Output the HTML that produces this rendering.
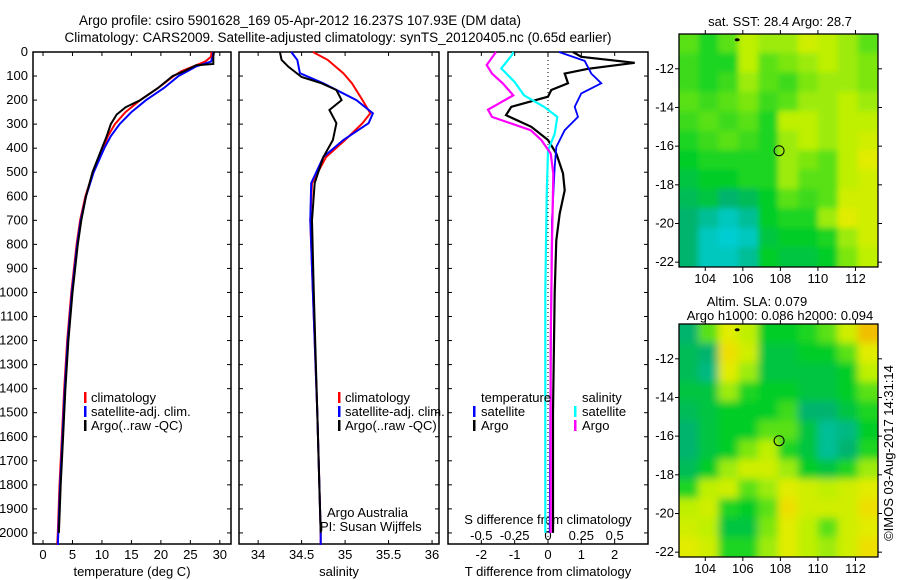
<!DOCTYPE html>
<html><head><meta charset="utf-8"><style>
body{margin:0;background:#fff;}
svg{display:block;font-family:"Liberation Sans",sans-serif;}
</style></head><body>
<svg id="c" width="900" height="580" viewBox="0 0 900 580" xmlns="http://www.w3.org/2000/svg">
<text x="300" y="25" font-size="13.5" text-anchor="middle">Argo profile: csiro 5901628_169 05-Apr-2012 16.237S 107.93E (DM data)</text>
<text x="338" y="42" font-size="13.5" text-anchor="middle">Climatology: CARS2009. Satellite-adjusted climatology: synTS_20120405.nc (0.65d earlier)</text>
<g id="g"></g>
</svg>
<script>
// ---------- data ----------
const depthT = [0,20,40,60,80,100,150,200,250,300,350,400,500,600,700,800,1000,1200,1400,1600,1800,2000,2050];
const tempClim = [28.6,28.5,27.5,25.5,23.5,22.2,19.5,16.5,14,12.2,11,10.2,8.5,7.2,6.3,5.7,4.8,4.1,3.6,3.2,2.8,2.5,2.4];
const tempSat  = [28.9,28.8,28.5,26,24.5,23,20.5,17.5,15,13,11.5,10.4,8.6,7.3,6.4,5.8,4.9,4.2,3.7,3.3,2.9,2.6,2.5];
const depthTA = [0,20,40,50,55,80,100,150,200,230,260,300,350,400,500,600,700,800,1000,1200,1400,1600,1800,2000];
const tempArgo = [29,28.9,28.9,28.9,26,24,22,19.5,16.5,14,12.5,11.5,10.8,10,8.4,7.3,6.5,5.9,5,4.3,3.8,3.4,3,2.7];

const depthS = [0,33,88,130,200,255,296,366,437,545,700,1000,1500,2000,2050];
const salClim = [34.63,34.8,34.98,35.08,35.2,35.29,35.2,35.0,34.78,34.62,34.6,34.63,34.68,34.72,34.72];
const salSat  = [34.38,34.45,34.48,34.75,35.13,35.32,35.27,34.98,34.75,34.61,34.6,34.63,34.68,34.72,34.72];
const depthSA = [0,33,62,104,130,158,200,241,296,366,437,545,700,1000,1500,2000];
const salArgo = [34.25,34.27,34.35,34.5,34.73,34.9,34.96,34.82,34.9,34.86,34.75,34.65,34.62,34.64,34.68,34.72];

const depthDT = [0,20,45,70,90,130,158,186,228,263,311,366,422,505,575,672,783,1000,1500,2000];
const dTArgo = [0.75,1.0,2.6,1.2,0.5,0.6,0.1,0,-1.1,-1.26,-0.5,0,0.25,0.45,0.5,0.35,0.25,0.2,0.15,0.15];
const depthDTS = [0,37,90,130,172,228,270,325,395,478,700,1000,1500,2000];
const dTSat = [0.33,1.1,1.3,1.6,1.0,0.8,0.9,0.5,0.25,0.2,0.12,0.1,0.07,0.05];
const depthDSS = [0,12,68,125,180,228,270,340,410,600,1000,1500,2000];
const dSSat = [-0.26,-0.27,-0.35,-0.25,-0.18,-0.03,0.07,0.05,0,-0.01,-0.02,-0.02,-0.02];
const depthDSA = [0,54,90,130,180,240,270,325,366,422,505,800,1200,2000];
const dSArgo = [-0.39,-0.46,-0.42,-0.34,-0.26,-0.45,-0.42,-0.13,-0.05,0.02,0.04,0.03,0.02,0.02];

const depthTicks = [0,100,200,300,400,500,600,700,800,900,1000,1100,1200,1300,1400,1500,1600,1700,1800,1900,2000];
const tempTicks = [0,5,10,15,20,25,30];
const salTicks = [34,34.5,35,35.5,36];
const dTTicks = [-2,-1,0,1,2];
const dSTicks = [-0.5,-0.25,0,0.25,0.5];
const dSTickLabels = ['-0.5','-0.25','0','0.25','0.5'];
const latTicks = [-12,-14,-16,-18,-20,-22];
const lonTicks = [104,106,108,110,112];

const sstGrid = [
[.6,.5,.6,.75,.7,.7,.8,.75,.7,.6],
[.55,.5,.5,.75,.6,.65,.7,.75,.7,.65],
[.55,.5,.55,.7,.6,.55,.65,.7,.7,.65],
[.6,.55,.6,.65,.55,.6,.7,.7,.75,.7],
[.55,.6,.55,.6,.5,.75,.75,.7,.75,.75],
[.5,.55,.6,.55,.5,.7,.75,.7,.75,.8],
[.45,.5,.5,.5,.5,.7,.65,.6,.75,.85],
[.4,.45,.45,.5,.5,.7,.6,.6,.75,.8],
[.35,.4,.3,.35,.45,.6,.55,.6,.8,.8],
[.3,.2,.1,.2,.45,.5,.5,.7,.85,.8],
[.3,.1,.05,.1,.4,.45,.45,.5,.7,.8],
[.3,.1,.1,.2,.45,.4,.4,.45,.65,.75]];
const slaGrid = [
[.3,.6,.85,.75,.45,.45,.5,.6,.8,.95],
[.35,.3,.9,.8,.4,.4,.45,.45,.6,.85],
[.35,.25,.85,.7,.4,.4,.4,.4,.45,.75],
[.4,.4,.7,.5,.45,.45,.4,.4,.45,.6],
[.35,.4,.45,.45,.45,.55,.3,.3,.4,.5],
[.3,.4,.45,.45,.6,.6,.4,.2,.25,.45],
[.3,.4,.45,.65,.75,.5,.4,.2,.3,.5],
[.35,.45,.7,.8,.8,.7,.45,.4,.5,.7],
[.5,.75,.8,.6,.7,.85,.8,.75,.8,.85],
[.75,.8,.5,.45,.6,.9,.8,.8,.8,.9],
[.8,.75,.4,.4,.65,.85,.75,.6,.8,.85],
[.85,.8,.5,.5,.7,.85,.75,.7,.8,.9]];

// ---------- helpers ----------
const NS='http://www.w3.org/2000/svg';
const G=document.getElementById('g');
function mk(tag,attrs,parent){const e=document.createElementNS(NS,tag);for(const k in attrs)e.setAttribute(k,attrs[k]);(parent||G).appendChild(e);return e;}
const yTop=52,yBot=544,dMax=2046;
function yD(d){return yTop+(d/dMax)*(yBot-yTop);}

function panel(name,x0,x1,v0,v1){
  const box=mk('rect',{x:x0,y:yTop,width:x1-x0,height:yBot-yTop,fill:'none',stroke:'#000','stroke-width':1.5});
  
  
  return v=>x0+(v-v0)/(v1-v0)*(x1-x0);
}
function line(name,xs,ds,fx,color,w){
  const pts=xs.map((v,i)=>fx(v).toFixed(1)+','+yD(ds[i]).toFixed(1)).join(' ');
  const p=mk('polyline',{points:pts,fill:'none',stroke:color,'stroke-width':w||2,'stroke-linejoin':'miter'});
  
  
}
function txt(name,x,y,s,opts){
  const t=mk('text',Object.assign({x:x,y:y,'font-size':13},opts||{}));
  t.textContent=s;
  
  
  return t;
}
function xTicks(fx,ticks,labels,ylab,name){
  ticks.forEach((v,i)=>{const x=fx(v);
    mk('line',{x1:x,x2:x,y1:yBot,y2:yBot-4,stroke:'#000'});
    mk('line',{x1:x,x2:x,y1:yTop,y2:yTop+4,stroke:'#000'});
    txt(name+'-tick-label',x,ylab,labels?labels[i]:String(v),{'text-anchor':'middle'});
  });
}
function legendBar(x,y,color){mk('rect',{x:x,y:y-10,width:2.5,height:11,fill:color});}

// ---------- panel 1 ----------
const fT=panel('temperature-panel',33,231,-1.7,31.9);
depthTicks.forEach(d=>{const y=yD(d);
  mk('line',{x1:33,x2:37,y1:y,y2:y,stroke:'#000'});mk('line',{x1:231,x2:227,y1:y,y2:y,stroke:'#000'});
  txt('depth-tick-label',28,y+4,String(d),{'text-anchor':'end'});
});
xTicks(fT,tempTicks,null,559,'temperature');
txt('temperature-axis-title',132,576,'temperature (deg C)',{'text-anchor':'middle'});
line('temp-climatology-line',tempClim,depthT,fT,'#f00',2);
line('temp-satellite-line',tempSat,depthT,fT,'#00f',2);
line('temp-argo-line',tempArgo,depthTA,fT,'#000',2);
[['climatology','#f00'],['satellite-adj. clim.','#00f'],['Argo(..raw -QC)','#000']].forEach((l,i)=>{
  legendBar(84,402+i*14,l[1]);txt('temp-legend-entry',91,402+i*14,l[0]);
});

// ---------- panel 2 ----------
const fS=panel('salinity-panel',239,439,33.78,36.08);
depthTicks.forEach(d=>{const y=yD(d);
  mk('line',{x1:239,x2:243,y1:y,y2:y,stroke:'#000'});mk('line',{x1:439,x2:435,y1:y,y2:y,stroke:'#000'});});
xTicks(fS,salTicks,null,559,'salinity');
txt('salinity-axis-title',339,576,'salinity',{'text-anchor':'middle'});
line('sal-climatology-line',salClim,depthS,fS,'#f00',2);
line('sal-satellite-line',salSat,depthS,fS,'#00f',2);
line('sal-argo-line',salArgo,depthSA,fS,'#000',2);
[['climatology','#f00'],['satellite-adj. clim.','#00f'],['Argo(..raw -QC)','#000']].forEach((l,i)=>{
  legendBar(338,402+i*14,l[1]);txt('sal-legend-entry',345,402+i*14,l[0]);
});
txt('argo-australia-label',327,517,'Argo Australia');
txt('pi-label',320,531,'PI: Susan Wijffels');

// ---------- panel 3 ----------
const fDT=panel('difference-panel',448,648,-3,3);
const fDS=v=>fDT(v*4);
depthTicks.forEach(d=>{const y=yD(d);
  mk('line',{x1:448,x2:452,y1:y,y2:y,stroke:'#000'});mk('line',{x1:648,x2:644,y1:y,y2:y,stroke:'#000'});});
mk('line',{x1:fDT(0),x2:fDT(0),y1:yTop,y2:yBot,stroke:'#000','stroke-dasharray':'1,3'});
xTicks(fDT,dTTicks,null,559,'t-diff');
dSTicks.forEach((v,i)=>txt('s-diff-tick-label',fDS(v),540,dSTickLabels[i],{'text-anchor':'middle'}));
txt('s-diff-axis-title',548,524,'S difference from climatology',{'text-anchor':'middle'});
txt('t-diff-axis-title',548,576,'T difference from climatology',{'text-anchor':'middle'});
line('dt-argo-line',dTArgo,depthDT,fDT,'#000',2.2);
line('dt-satellite-line',dTSat,depthDTS,fDT,'#00f',1.8);
line('ds-satellite-line',dSSat,depthDSS,fDS,'#0ff',2.2);
line('ds-argo-line',dSArgo,depthDSA,fDS,'#f0f',2.2);
txt('legend-temperature-header',481,402,'temperature');
txt('legend-salinity-header',582,402,'salinity');
legendBar(473,416,'#00f');txt('legend-t-satellite',481,416,'satellite');
legendBar(473,430,'#000');txt('legend-t-argo',481,430,'Argo');
legendBar(574,416,'#0ff');txt('legend-s-satellite',582,416,'satellite');
legendBar(574,430,'#f0f');txt('legend-s-argo',582,430,'Argo');

// ---------- maps ----------
function cmap(v){
  const stops=[[0,[0,210,230]],[0.3,[0,180,110]],[0.45,[0,205,40]],[0.6,[90,225,20]],[0.75,[190,240,0]],[0.88,[235,235,0]],[1,[245,160,0]]];
  for(let i=1;i<stops.length;i++){if(v<=stops[i][0]){const a=stops[i-1],b=stops[i],t=(v-a[0])/(b[0]-a[0]);
    return 'rgb('+a[1].map((c,k)=>Math.round(c+(b[1][k]-c)*t)).join(',')+')';}}
  return 'rgb(245,160,0)';
}
const defs=mk('defs',{});
const f1=mk('filter',{id:'blur1',x:'-5%',y:'-5%',width:'110%',height:'110%'},defs);
mk('feGaussianBlur',{stdDeviation:3},f1);
const f2=mk('filter',{id:'blur2',x:'-5%',y:'-5%',width:'110%',height:'110%'},defs);
mk('feGaussianBlur',{stdDeviation:4},f2);
function map(name,grid,y0,y1,filt){
  const x0=679,x1=878,lon0=102.6,lon1=113.2,lat0=-10.2,lat1=-22.25;
  const fx=v=>x0+(v-lon0)/(lon1-lon0)*(x1-x0), fy=v=>y0+(v-lat0)/(lat1-lat0)*(y1-y0);
  const nr=grid.length,nc=grid[0].length,cw=(x1-x0)/nc,ch=(y1-y0)/nr;
  const clip=mk('clipPath',{id:name+'clip'},defs);mk('rect',{x:x0,y:y0,width:x1-x0,height:y1-y0},clip);
  const g=mk('g',{'clip-path':'url(#'+name+'clip)'});
  const gi=mk('g',{filter:'url(#'+filt+')'},g);
  grid.forEach((row,r)=>row.forEach((v,c)=>{
    const cell=mk('rect',{x:x0+c*cw-0.5-(c==0?10:0),y:y0+r*ch-0.5-(r==0?10:0),width:cw+1+(c==0||c==nc-1?10:0),height:ch+1+(r==0||r==nr-1?10:0),fill:cmap(v)},gi);
    
    
  }));
  const fr=mk('rect',{x:x0,y:y0,width:x1-x0,height:y1-y0,fill:'none',stroke:'#000','stroke-width':1.3});
  
  
  latTicks.forEach(v=>{const y=fy(v);mk('line',{x1:x0,x2:x0-4,y1:y,y2:y,stroke:'#000'});mk('line',{x1:x1,x2:x1+4,y1:y,y2:y,stroke:'#000'});
    txt(name+'-lat-label',674,y+4,String(v),{'text-anchor':'end'});});
  lonTicks.forEach(v=>{const x=fx(v);mk('line',{x1:x,x2:x,y1:y1,y2:y1+4,stroke:'#000'});mk('line',{x1:x,x2:x,y1:y0,y2:y0-4,stroke:'#000'});
    txt(name+'-lon-label',x,y1+16,String(v),{'text-anchor':'middle'});});
  const c=mk('circle',{cx:fx(107.93),cy:fy(-16.237),r:5,fill:'none',stroke:'#000','stroke-width':1});
  
  
  mk('ellipse',{cx:fx(105.7),cy:fy(-10.5),rx:2.5,ry:1.5,fill:'#000'});
}
map('sst-map',sstGrid,34,267,'blur1');
map('sla-map',slaGrid,324,557,'blur2');
txt('sst-map-title',780,26,'sat. SST: 28.4 Argo: 28.7',{'text-anchor':'middle'});
txt('sla-map-title-1',757,306,'Altim. SLA: 0.079',{'text-anchor':'middle'});
txt('sla-map-title-2',780,320,'Argo h1000: 0.086 h2000: 0.094',{'text-anchor':'middle'});
txt('imos-timestamp',0,0,'©IMOS 03-Aug-2017 14:31:14',{'text-anchor':'middle',transform:'translate(893,453) rotate(-90)'});
</script>
</body></html>
